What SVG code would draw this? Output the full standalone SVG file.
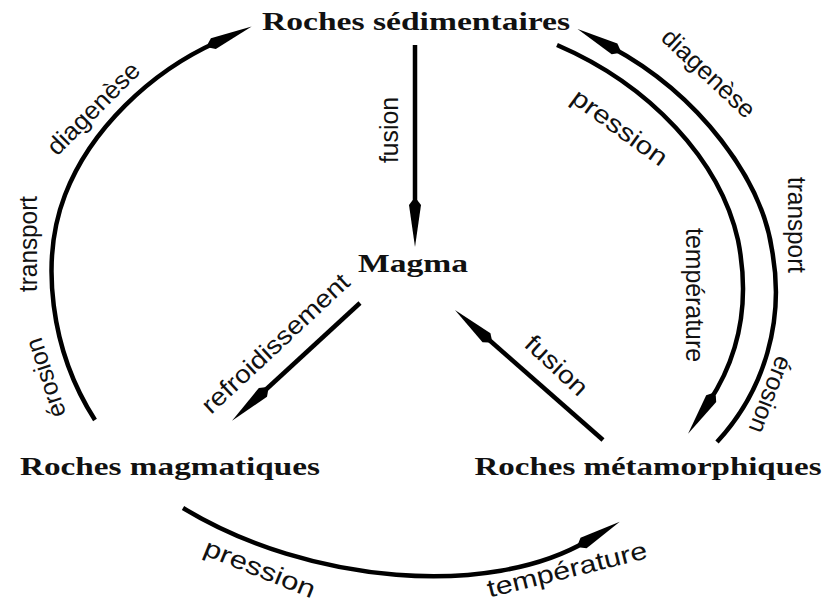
<svg xmlns="http://www.w3.org/2000/svg" width="826" height="605" viewBox="0 0 826 605">
<style>
.node{font-family:"Liberation Serif","Times New Roman",serif;font-weight:bold;font-size:25px;fill:#111;text-anchor:middle}
.lbl{font-family:"Liberation Sans",Arial,sans-serif;font-size:25px;fill:#111;text-anchor:middle;dominant-baseline:central}
.edge{fill:none;stroke:#000;stroke-width:4.5;marker-end:url(#ah)}
</style>
<defs>
<marker id="ah" viewBox="-12 -8 52 16" refX="0" refY="0" markerWidth="52" markerHeight="16" markerUnits="userSpaceOnUse" orient="auto" overflow="visible">
<path d="M38,0 L-4,-6 L-9,-2.2 L-9,2.2 L-4,6 Z" fill="#000"/>
</marker>
</defs>
<rect width="826" height="605" fill="#fff"/>
<g id="connectors">
<path class="edge" d="M415,45 L415,209"/>
<path class="edge" d="M360,303 L260,395"/>
<path class="edge" d="M603,440 L483.5,335"/>
<path class="edge" d="M95,420 C50,350 40,260 65,195 C90,130 150,72 217,42"/>
<path class="edge" d="M717,442 C765,390 785,320 772,250 C762,180 700,95 611,47"/>
<path class="edge" d="M557,45 C650,85 720,160 738,240 C750,300 740,355 709,402"/>
<path class="edge" d="M183,508 C310,585 490,598 587,541"/>
<g id="edge-labels">
<text class="lbl" transform="translate(93,108) rotate(-45)" textLength="120" lengthAdjust="spacingAndGlyphs">diagenèse</text>
<text class="lbl" transform="translate(28,244) rotate(-90)" textLength="96" lengthAdjust="spacingAndGlyphs">transport</text>
<text class="lbl" transform="translate(45,378) rotate(-108)" textLength="82" lengthAdjust="spacingAndGlyphs">érosion</text>
<text class="lbl" transform="translate(389,130) rotate(-90)" textLength="66" lengthAdjust="spacingAndGlyphs">fusion</text>
<text class="lbl" transform="translate(275,343) rotate(-43)" textLength="192" lengthAdjust="spacingAndGlyphs">refroidissement</text>
<text class="lbl" transform="translate(557,365) rotate(43)" textLength="76" lengthAdjust="spacingAndGlyphs">fusion</text>
<text class="lbl" transform="translate(709,73) rotate(43)" textLength="118" lengthAdjust="spacingAndGlyphs">diagenèse</text>
<text class="lbl" transform="translate(620,127) rotate(36)" textLength="112" lengthAdjust="spacingAndGlyphs">pression</text>
<text class="lbl" transform="translate(797,225) rotate(90)" textLength="96" lengthAdjust="spacingAndGlyphs">transport</text>
<text class="lbl" transform="translate(695,295) rotate(90)" textLength="134" lengthAdjust="spacingAndGlyphs">température</text>
<text class="lbl" transform="translate(771,395) rotate(111)" textLength="80" lengthAdjust="spacingAndGlyphs">érosion</text>
<text class="lbl" transform="translate(260,568) rotate(22)" textLength="118" lengthAdjust="spacingAndGlyphs">pression</text>
<text class="lbl" transform="translate(567,569) rotate(-14)" textLength="164" lengthAdjust="spacingAndGlyphs">température</text>
</g>
</g>
<g id="node-sedimentaires"><text class="node" x="416" y="30" textLength="308" lengthAdjust="spacingAndGlyphs">Roches sédimentaires</text></g>
<g id="node-magma"><text class="node" x="413" y="272" textLength="110" lengthAdjust="spacingAndGlyphs">Magma</text></g>
<g id="node-magmatiques"><text class="node" x="170" y="475" textLength="300" lengthAdjust="spacingAndGlyphs">Roches magmatiques</text></g>
<g id="node-metamorphiques"><text class="node" x="648" y="475" textLength="347" lengthAdjust="spacingAndGlyphs">Roches métamorphiques</text></g>
</svg>
